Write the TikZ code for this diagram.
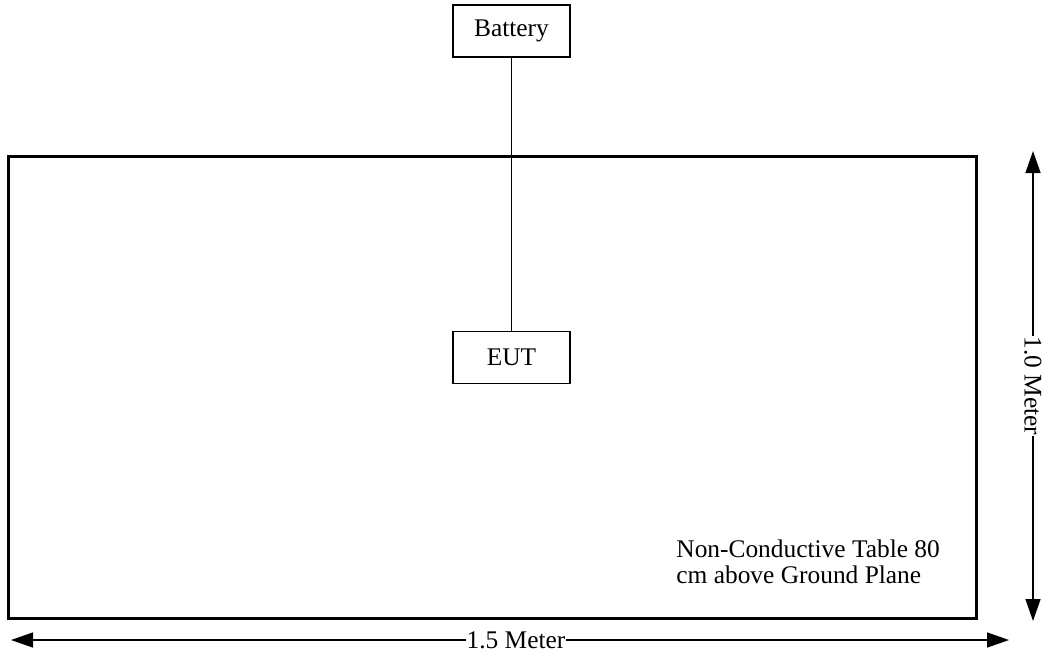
\documentclass[tikz,border=0pt]{standalone}
\usepackage{fontspec}
\setmainfont{Liberation Serif}
\usetikzlibrary{arrows.meta}

\tikzset{
  unitbox/.style={draw, line width=0.8pt, minimum width=58.5pt, minimum height=26pt, inner sep=0pt},
  dimline/.style={{Triangle[length=11pt,width=7.5pt]}-{Triangle[length=11pt,width=7.5pt]}, line width=0.7pt},
  dimlabel/.style={fill=white, inner sep=0.5pt}
}

\begin{document}
\begin{tikzpicture}[x=0.5pt, y=-0.5pt, font=\fontsize{12.7}{15}\selectfont]
				\useasboundingbox (0,0) rectangle (1043,654);
				
				% table
				\draw[line width=1.5pt] (8,156) rectangle (976,618);
				
				\node[unitbox] (battery) at (511.5,31) {Battery};
				\node[unitbox] (eut) at (511.5,357.5) {EUT};
				\draw[line width=0.5pt] (battery) -- (eut);
				
				\node[anchor=base west, align=left, inner sep=0pt, font=\fontsize{12.7}{13}\selectfont] (note) at (676,583) {Non-Conductive Table 80\\cm above Ground Plane};
				
				% dimensions
				\coordinate (htop) at (1033,151);
				\coordinate (hbot) at (1033,621);
				\draw[dimline] (htop) -- (hbot) node[midway, dimlabel, rotate=-90] {1.0 Meter};
				
				\coordinate (wl) at (11,640);
				\coordinate (wr) at (1009,640);
				\draw[dimline] (wl) -- (wr) node[pos=0.506, dimlabel] {1.5 Meter};
\end{tikzpicture}
\end{document}
